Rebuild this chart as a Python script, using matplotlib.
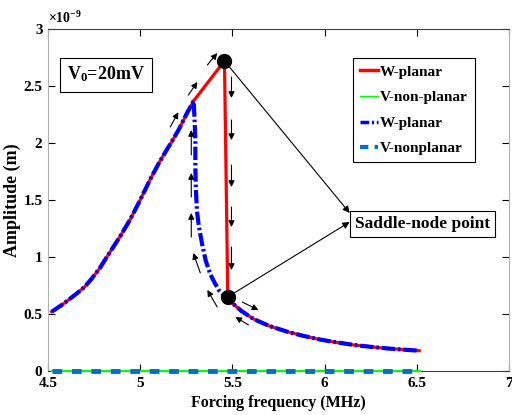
import matplotlib

matplotlib.use("Agg")
import matplotlib.pyplot as plt

# amplitudes in units of 1e-9 m, frequency in MHz
upper_freq = [4.52, 4.58, 4.656, 4.70, 4.737, 4.78, 4.819, 4.855, 4.891, 4.946, 5.0, 5.054,
              5.10, 5.14, 5.167, 5.21, 5.25, 5.29]
upper_amp = [0.52, 0.585, 0.68, 0.74, 0.81, 0.90, 1.0, 1.09, 1.18, 1.33, 1.5, 1.68,
             1.82, 1.93, 2.0, 2.12, 2.25, 2.37]

peak_freq = [5.29, 5.457]
peak_amp = [2.37, 2.72]

jump_freq = [5.457, 5.475]
jump_amp = [2.72, 0.65]

unstable_freq = [5.29, 5.295, 5.299, 5.299, 5.302, 5.308, 5.318, 5.335, 5.355, 5.38, 5.405, 5.426, 5.45, 5.475]
unstable_amp = [2.37, 2.20, 2.03, 1.80, 1.59, 1.40, 1.27, 1.12, 0.97, 0.85, 0.77, 0.71, 0.67, 0.65]

lower_freq = [5.475, 5.50, 5.55, 5.616, 5.70, 5.797, 5.88, 5.978, 6.07, 6.16, 6.25, 6.34, 6.43, 6.513]
lower_amp = [0.65, 0.595, 0.525, 0.455, 0.395, 0.345, 0.31, 0.275, 0.25, 0.228, 0.212, 0.198, 0.187, 0.178]

zero_freq = [4.52, 6.52]
zero_amp = [0.0, 0.0]

saddle_freq = [5.457, 5.475]
saddle_amp = [2.72, 0.65]

# direction arrows along the response path: (x_start, y_start, x_end, y_end)
path_arrows = [
    (5.163, 2.14, 5.207, 2.27),
    (5.261, 2.42, 5.310, 2.535),
    (5.364, 2.684, 5.418, 2.789),
    (5.495, 2.579, 5.495, 2.395),
    (5.495, 2.202, 5.495, 2.026),
    (5.495, 1.807, 5.495, 1.614),
    (5.495, 1.439, 5.495, 1.263),
    (5.495, 1.088, 5.495, 0.886),
    (5.277, 1.895, 5.277, 2.114),
    (5.277, 1.526, 5.277, 1.737),
    (5.277, 1.175, 5.277, 1.386),
    (5.326, 0.860, 5.288, 1.035),
    (5.418, 0.561, 5.364, 0.711),
    (5.554, 0.605, 5.641, 0.535),
    (5.587, 0.404, 5.516, 0.474),
]

x_ticks = [4.5, 5, 5.5, 6, 6.5, 7]
x_labels = ["4.5", "5", "5.5", "6", "6.5", "7"]
y_ticks = [0, 0.5, 1, 1.5, 2, 2.5, 3]
y_labels = ["0", "0.5", "1", "1.5", "2", "2.5", "3"]

SERIF = "Liberation Serif"
plt.rcParams.update(
    {
        "font.family": SERIF,
        "font.weight": "bold",
        "mathtext.fontset": "custom",
        "mathtext.rm": "Liberation Serif",
        "mathtext.bf": "Liberation Serif:bold",
        "mathtext.it": "Liberation Serif:italic",
    }
)

fig = plt.figure(figsize=(5.12, 4.15), dpi=100)
ax = fig.add_axes([48 / 512, 44 / 415, 461 / 512, 342 / 415])

red = "#ff0000"
blue = "#0000ff"
green = "#00ff00"
mblue = "#0072bd"
dashdot = (0, (3.2, 0.7, 0.6, 0.7))

# W-planar, solid red path (stable branches and the jump)
for xs, ys in [(upper_freq, upper_amp), (peak_freq, peak_amp), (jump_freq, jump_amp), (lower_freq, lower_amp)]:
    ax.plot(xs, ys, color=red, lw=2.3, zorder=3)

# W-planar, blue dash-dot path including the unstable branch
blue_freq = upper_freq + unstable_freq[1:] + lower_freq[1:]
blue_amp = upper_amp + unstable_amp[1:] + lower_amp[1:]
ax.plot(blue_freq, blue_amp, color=blue, lw=3.0, linestyle=dashdot, zorder=4)

# out-of-plane components stay at zero
ax.plot(zero_freq, zero_amp, color=green, lw=1.5, zorder=3, clip_on=False)
ax.plot(zero_freq, zero_amp, color=mblue, lw=3.5, linestyle=(0, (2, 2)), zorder=4, clip_on=False)

ax.plot(saddle_freq, saddle_amp, "o", color="black", ms=10, zorder=6)

for x0, y0, x1, y1 in path_arrows:
    ax.annotate(
        "",
        xy=(x1, y1),
        xytext=(x0, y0),
        arrowprops=dict(arrowstyle="-|>", color="black", lw=0.8, mutation_scale=9, shrinkA=0, shrinkB=0),
        zorder=7,
    )

# saddle-node label with leader arrows
ax.text(
    6.53, 1.29, "Saddle-node point", ha="center", va="center", fontsize=12.5, fontweight="bold",
    bbox=dict(boxstyle="square,pad=0.3", fc="white", ec="black", lw=0.8), zorder=8,
)
for (sx, sy), (tx, ty) in zip(zip(saddle_freq, saddle_amp), [(6.136, 1.386), (6.136, 1.307)]):
    ax.annotate(
        "",
        xy=(tx, ty),
        xytext=(sx, sy),
        arrowprops=dict(arrowstyle="-|>", color="black", lw=0.8, mutation_scale=10, shrinkA=3, shrinkB=0),
        zorder=7,
    )

ax.text(
    4.815, 2.60, r"V$_{\mathbf{0}}$=20mV", ha="center", va="center", fontsize=13, fontweight="bold",
    bbox=dict(boxstyle="square,pad=0.4", fc="white", ec="black", lw=0.8), zorder=8,
)

# legend proxies
h1, = ax.plot([], [], color=red, lw=2.5)
h2, = ax.plot([], [], color=green, lw=1.0)
h3, = ax.plot([], [], color=blue, lw=2.5, linestyle=(0, (2.5, 0.8, 0.6, 0.8)))
h4, = ax.plot([], [], color=mblue, lw=3.0, linestyle=(0, (2, 1.5)))
leg = ax.legend(
    [h1, h2, h3, h4],
    ["W-planar", "V-non-planar", "W-planar", "V-nonplanar"],
    loc="upper left",
    bbox_to_anchor=(0.662, 0.915),
    fontsize=11,
    handlelength=1.2,
    handletextpad=0.1,
    labelspacing=0.78,
    borderpad=0.45,
    borderaxespad=0,
    fancybox=False,
    framealpha=1,
    edgecolor="black",
)
leg.get_frame().set_linewidth(0.8)
leg.set_zorder(9)

ax.set_xlim(4.5, 7)
ax.set_ylim(0, 3)
ax.set_xticks(x_ticks)
ax.set_xticklabels(x_labels)
ax.set_yticks(y_ticks)
ax.set_yticklabels(y_labels)
ax.tick_params(direction="in", top=True, right=True, length=5, width=0.8, labelsize=11, pad=4)
for side in ["left", "right"]:
    ax.spines[side].set_color("#b0b0b0")
for side in ["top", "bottom"]:
    ax.spines[side].set_color("#404040")
for spine in ax.spines.values():
    spine.set_linewidth(0.8)

ax.set_xlabel("Forcing frequency (MHz)", fontsize=11.5, fontweight="bold", labelpad=4)
ax.set_ylabel("Amplitude (m)", fontsize=13, fontweight="bold", labelpad=2)
ax.text(0.0, 1.01, r"$\times10^{-9}$", transform=ax.transAxes, fontsize=10, fontweight="normal",
        ha="left", va="bottom")

fig.savefig("out.png", dpi=100, facecolor="white")
